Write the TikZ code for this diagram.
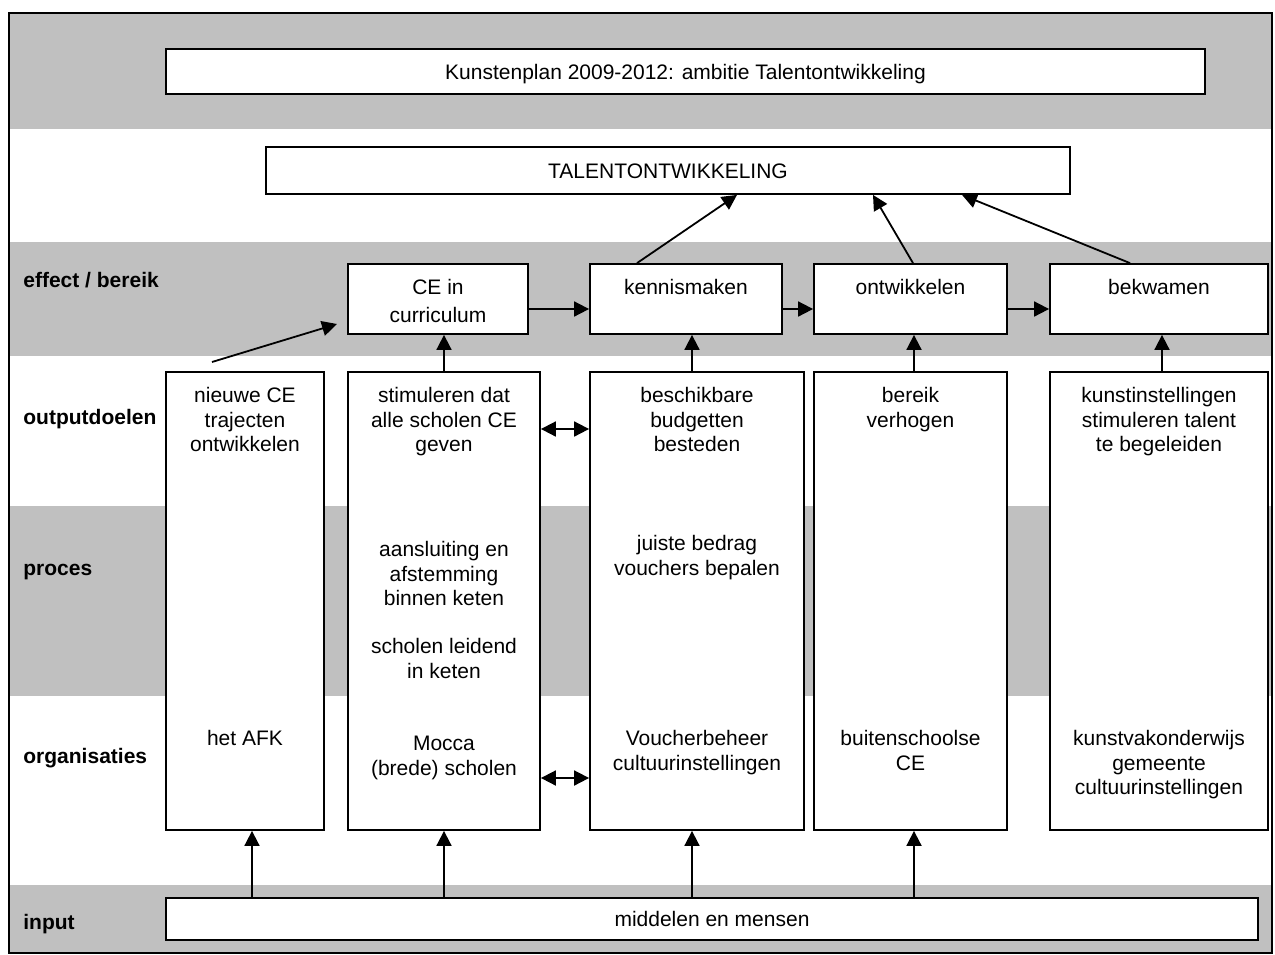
\documentclass[tikz,border=0pt]{standalone}
\usepackage{fontspec}
\setmainfont{Liberation Sans}
\usetikzlibrary{arrows.meta,fit,positioning}
\definecolor{bandgray}{RGB}{192,192,192}
\begin{document}
\begin{tikzpicture}
[x=0.5pt,y=-0.5pt,
  boxDecorate/.style={draw,fill=white,line width=0.9pt,inner sep=0pt},%
  textDecorate/.style={align=center,inner sep=0pt,font=\fontsize{10.5}{12.15}\selectfont},%
  rowDecorate/.style={anchor=base west,inner sep=0pt,font=\fontsize{10.5}{12.15}\selectfont\bfseries},%
  lineDecorate/.style={-{Triangle[length=7.5pt,width=7.5pt]},line width=0.9pt},%
  bothDecorate/.style={{Triangle[length=7.5pt,width=7.5pt]}-{Triangle[length=7.5pt,width=7.5pt]},line width=0.9pt}]
\useasboundingbox (0,0) rectangle (1275,954);
%% grey bands and frame
\foreach \ytop/\ybot in {13/129, 242/356, 506/696, 885/953}
{
  \fill[bandgray] (9,\ytop) rectangle (1272,\ybot);
}
\draw[line width=1pt] (9,13) rectangle (1272,953);
%% row labels
\node[rowDecorate] (rowEffect) at (23,287) {effect / bereik};
\node[rowDecorate] (rowOutput) at (23,424) {outputdoelen};
\node[rowDecorate] (rowProces) at (23,575) {proces};
\node[rowDecorate] (rowOrg) at (23,763) {organisaties};
\node[rowDecorate] (rowInput) at (23,929) {input};
%% boxes
\foreach \nodename/\xa/\ya/\xb/\yb in {
  plan/166/49/1205/94, talent/266/147/1070/194,
  %% effect row
  ce/348/264/528/334, km/590/264/782/334, ontw/814/264/1007/334, bekw/1050/264/1268/334,
  %% columns
  col1/166/372/324/830, col2/348/372/540/830, col3/590/372/804/830,
  col4/814/372/1007/830, col5/1050/372/1268/830,
  %% input
  input/166/898/1258/940}
{
  \node[boxDecorate,fit={(\xa,\ya) (\xb,\yb)}] (\nodename) {};
}
%% texts in the wide boxes
\node[textDecorate,anchor=base] (planText) at ([yshift=-3.75pt]plan.center) {Kunstenplan 2009-2012: ambitie Talentontwikkeling};
\node[textDecorate,anchor=base] (talentText) at ([yshift=-3.75pt]talent.center) {TALENTONTWIKKELING};
\node[textDecorate,anchor=base] (inputText) at ([yshift=-3.75pt]input.center) {middelen en mensen};
%% effect texts
\node[textDecorate,below=8pt of ce.north] (ceText) {CE in\\[1.6pt]curriculum};
\node[textDecorate,below=8pt of km.north] (kmText) {kennismaken};
\node[textDecorate,below=8pt of ontw.north] (ontwText) {ontwikkelen};
\node[textDecorate,below=8pt of bekw.north] (bekwText) {bekwamen};
%% outputdoelen
\node[textDecorate,below=8pt of col1.north] (outText1) {nieuwe CE\\trajecten\\ontwikkelen};
\node[textDecorate,below=8pt of col2.north] (outText2) {stimuleren dat\\alle scholen CE\\geven};
\node[textDecorate,below=8pt of col3.north] (outText3) {beschikbare\\budgetten\\besteden};
\node[textDecorate,below=8pt of col4.north] (outText4) {bereik\\verhogen};
\node[textDecorate,below=8pt of col5.north] (outText5) {kunstinstellingen\\stimuleren talent\\te begeleiden};
%% proces
\node[textDecorate,below=85pt of col2.north] (procText2) {aansluiting en\\afstemming\\binnen keten\\[12.15pt]scholen leidend\\in keten};
\node[textDecorate,below=82pt of col3.north] (procText3) {juiste bedrag\\vouchers bepalen};
%% organisaties
\node[textDecorate,below=179.5pt of col1.north] (orgText1) {het AFK};
\node[textDecorate,below=182.5pt of col2.north] (orgText2) {Mocca\\(brede) scholen};
\node[textDecorate,below=179.5pt of col3.north] (orgText3) {Voucherbeheer\\cultuurinstellingen};
\node[textDecorate,below=179.5pt of col4.north] (orgText4) {buitenschoolse\\CE};
\node[textDecorate,below=179.5pt of col5.north] (orgText5) {kunstvakonderwijs\\gemeente\\cultuurinstellingen};
%% arrows
\coordinate (newStart) at (212,362);
\coordinate (newEnd) at (337,324);
\draw[lineDecorate] (newStart) -- (newEnd);
\foreach \colname/\shift in {col1/3.5pt, col2/0pt, col3/-2.5pt, col4/1.75pt}
{
  \draw[lineDecorate] ([xshift=\shift]input.north -| \colname.south) -- ([xshift=\shift]\colname.south);
}
\foreach \colname/\boxname/\shift in {col2/ce/0pt, col3/km/-2.5pt, col4/ontw/1.75pt, col5/bekw/1.5pt}
{
  \draw[lineDecorate] ([xshift=\shift]\colname.north) -- ([xshift=\shift]\colname.north |- \boxname.south);
}
\foreach \startnode/\endnode in {ce/km, km/ontw, ontw/bekw}
{
  \draw[lineDecorate] ([yshift=-5pt]\startnode.east) -- ([yshift=-5pt]\endnode.west);
}
\draw[lineDecorate] ([xshift=-24.5pt]km.north) -- ([xshift=34.5pt]talent.south);
\draw[lineDecorate] ([xshift=1.25pt]ontw.north) -- ([xshift=102.5pt]talent.south);
\draw[lineDecorate] ([xshift=-14.5pt]bekw.north) -- ([xshift=147pt]talent.south);
\draw[bothDecorate] ([yshift=86pt]col2.east) -- ([yshift=86pt]col3.west);
\draw[bothDecorate] ([yshift=-88.5pt]col2.east) -- ([yshift=-88.5pt]col3.west);
\end{tikzpicture}
\end{document}
